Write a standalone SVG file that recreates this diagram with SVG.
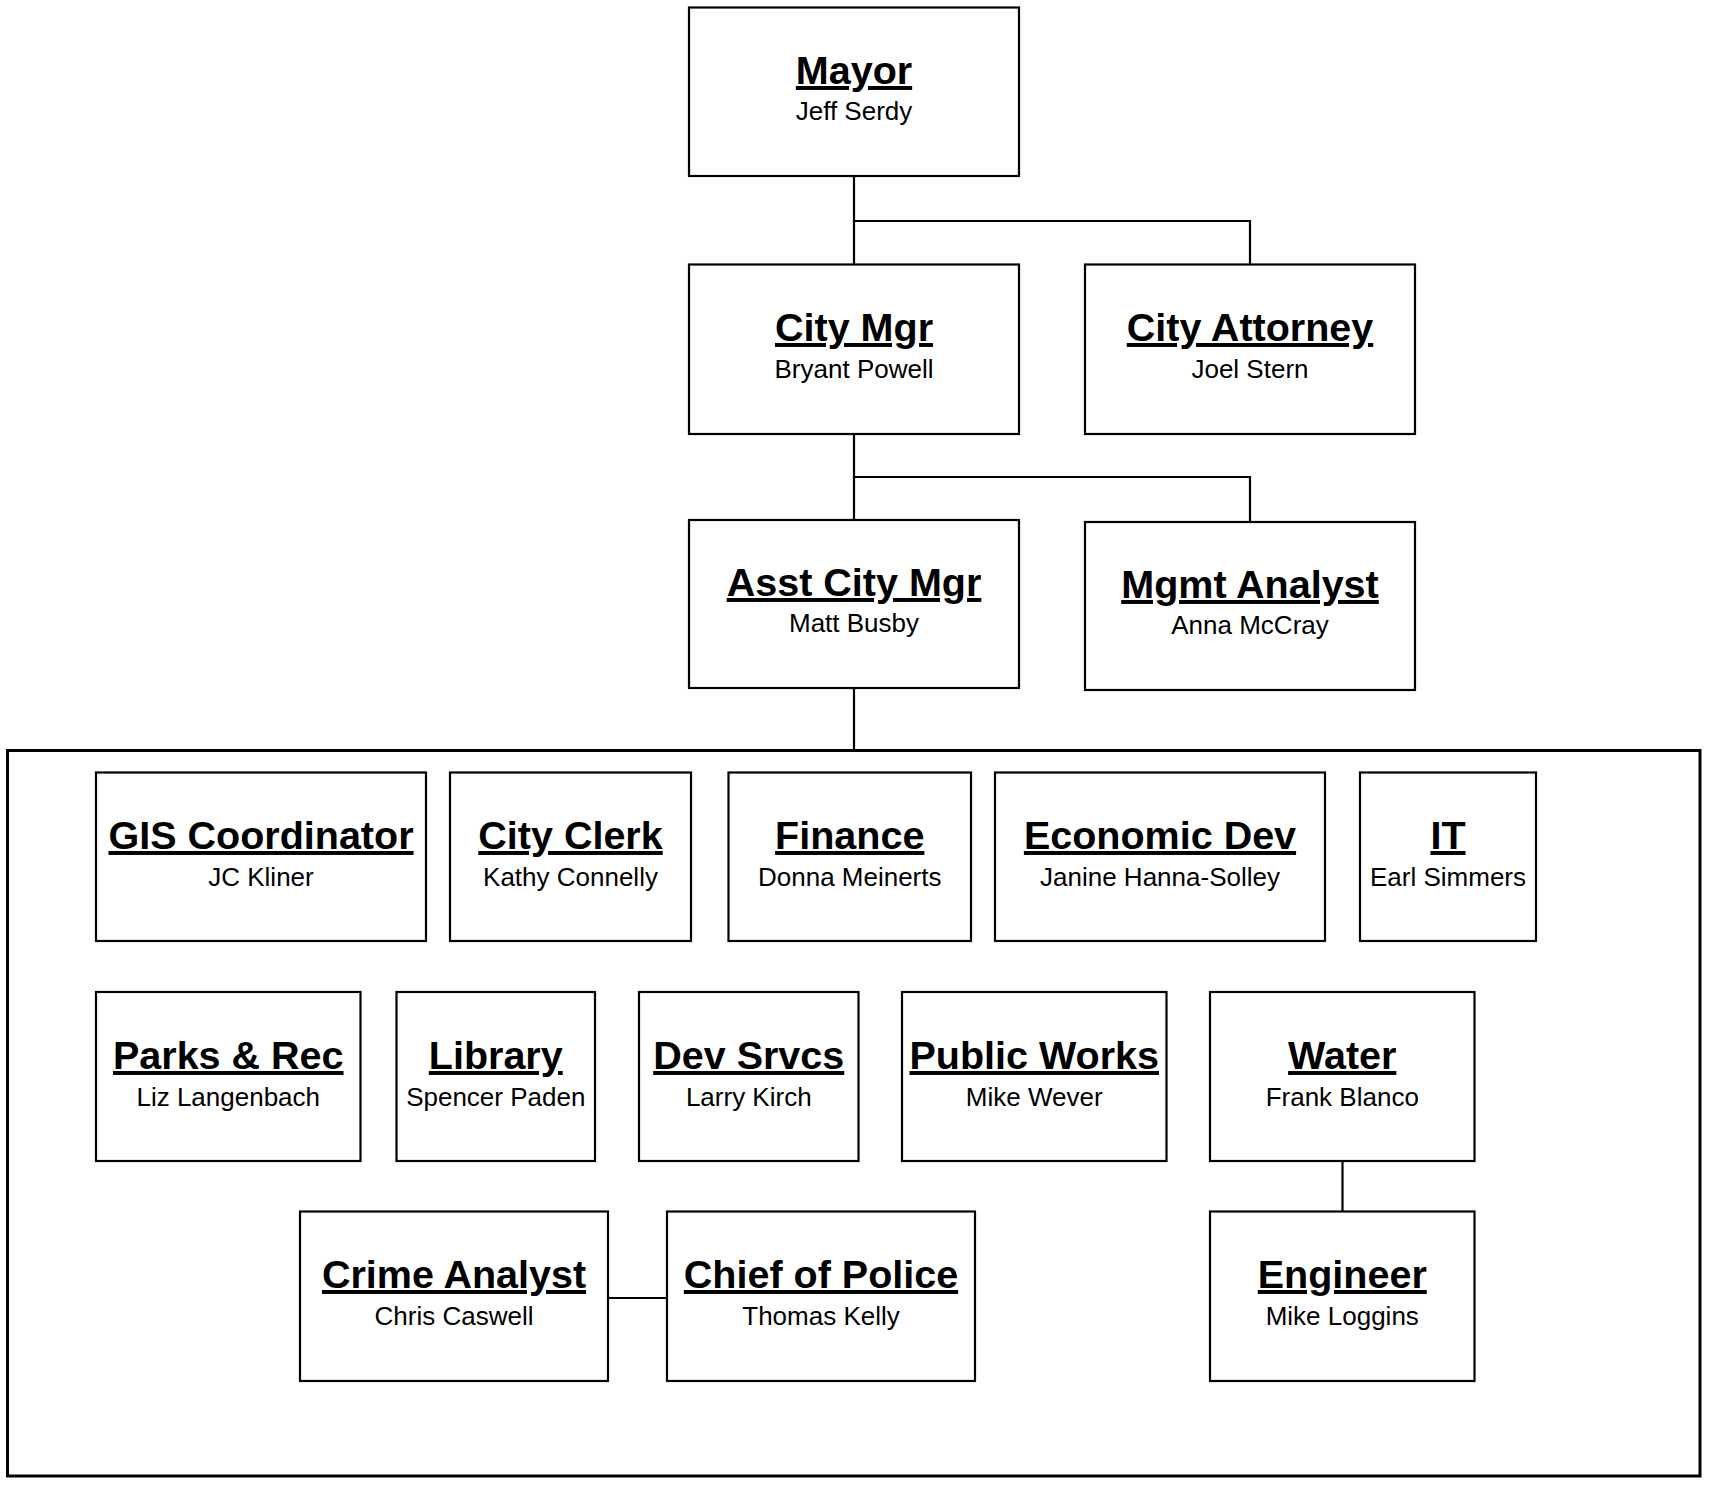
<svg xmlns="http://www.w3.org/2000/svg" width="1714" height="1490" viewBox="0 0 1714 1490">
<style>
.b{fill:#fff;stroke:#000;stroke-width:2.2}
.t{font-family:"Liberation Sans",Arial,sans-serif;font-weight:bold;font-size:39.5px;text-anchor:middle;text-decoration:underline;fill:#000}
.s{font-family:"Liberation Sans",Arial,sans-serif;font-size:26px;text-anchor:middle;fill:#000}
.c{fill:none;stroke:#000;stroke-width:2.2}
</style>
<rect width="1714" height="1490" fill="#fff"/>
<g id="container"><rect x="7.5" y="750.5" width="1692.5" height="725.5" fill="none" stroke="#000" stroke-width="3"/></g>
<g transform="translate(1,0)">
<g id="connectors">
<path class="c" d="M853,176 V264 M853,221 H1249 V264"/>
<path class="c" d="M853,434 V520 M853,477 H1249 V522"/>
<path class="c" d="M853,688 V750.5"/>
<path class="c" d="M607,1298 H666"/>
<path class="c" d="M1341.5,1161 V1211.5"/>
</g>
<g id="mayor"><rect class="b" x="688" y="7.5" width="330" height="168.5"/><text class="t" x="853" y="84">Mayor</text><text class="s" x="853" y="120">Jeff Serdy</text></g>
<g id="citymgr"><rect class="b" x="688" y="264.5" width="330" height="169.5"/><text class="t" x="853" y="341">City Mgr</text><text class="s" x="853" y="378">Bryant Powell</text></g>
<g id="cityattorney"><rect class="b" x="1084" y="264.5" width="330" height="169.5"/><text class="t" x="1249" y="341">City Attorney</text><text class="s" x="1249" y="378">Joel Stern</text></g>
<g id="asstcitymgr"><rect class="b" x="688" y="520" width="330" height="168"/><text class="t" x="853" y="596">Asst City Mgr</text><text class="s" x="853" y="632">Matt Busby</text></g>
<g id="mgmtanalyst"><rect class="b" x="1084" y="522" width="330" height="168"/><text class="t" x="1249" y="598">Mgmt Analyst</text><text class="s" x="1249" y="634">Anna McCray</text></g>
<g id="gis"><rect class="b" x="95" y="772.5" width="330" height="168.5"/><text class="t" x="260" y="849">GIS Coordinator</text><text class="s" x="260" y="886">JC Kliner</text></g>
<g id="cityclerk"><rect class="b" x="449" y="772.5" width="241" height="168.5"/><text class="t" x="569.5" y="849">City Clerk</text><text class="s" x="569.5" y="886">Kathy Connelly</text></g>
<g id="finance"><rect class="b" x="727.5" y="772.5" width="242.5" height="168.5"/><text class="t" x="848.75" y="849">Finance</text><text class="s" x="848.75" y="886">Donna Meinerts</text></g>
<g id="econdev"><rect class="b" x="994" y="772.5" width="330" height="168.5"/><text class="t" x="1159" y="849">Economic Dev</text><text class="s" x="1159" y="886">Janine Hanna-Solley</text></g>
<g id="it"><rect class="b" x="1359" y="772.5" width="176" height="168.5"/><text class="t" x="1447" y="849">IT</text><text class="s" x="1447" y="886">Earl Simmers</text></g>
<g id="parks"><rect class="b" x="95" y="992" width="264.5" height="169"/><text class="t" x="227.25" y="1069">Parks &amp; Rec</text><text class="s" x="227.25" y="1106">Liz Langenbach</text></g>
<g id="library"><rect class="b" x="395.5" y="992" width="198.5" height="169"/><text class="t" x="494.75" y="1069">Library</text><text class="s" x="494.75" y="1106">Spencer Paden</text></g>
<g id="devsrvcs"><rect class="b" x="638" y="992" width="219.5" height="169"/><text class="t" x="747.75" y="1069">Dev Srvcs</text><text class="s" x="747.75" y="1106">Larry Kirch</text></g>
<g id="publicworks"><rect class="b" x="901" y="992" width="264.5" height="169"/><text class="t" x="1033.25" y="1069">Public Works</text><text class="s" x="1033.25" y="1106">Mike Wever</text></g>
<g id="water"><rect class="b" x="1209" y="992" width="264.5" height="169"/><text class="t" x="1341.25" y="1069">Water</text><text class="s" x="1341.25" y="1106">Frank Blanco</text></g>
<g id="crimeanalyst"><rect class="b" x="299" y="1211.5" width="308" height="169.5"/><text class="t" x="453" y="1288">Crime Analyst</text><text class="s" x="453" y="1325">Chris Caswell</text></g>
<g id="chiefpolice"><rect class="b" x="666" y="1211.5" width="308" height="169.5"/><text class="t" x="820" y="1288">Chief of Police</text><text class="s" x="820" y="1325">Thomas Kelly</text></g>
<g id="engineer"><rect class="b" x="1209" y="1211.5" width="264.5" height="169.5"/><text class="t" x="1341.25" y="1288">Engineer</text><text class="s" x="1341.25" y="1325">Mike Loggins</text></g>
</g>
</svg>
